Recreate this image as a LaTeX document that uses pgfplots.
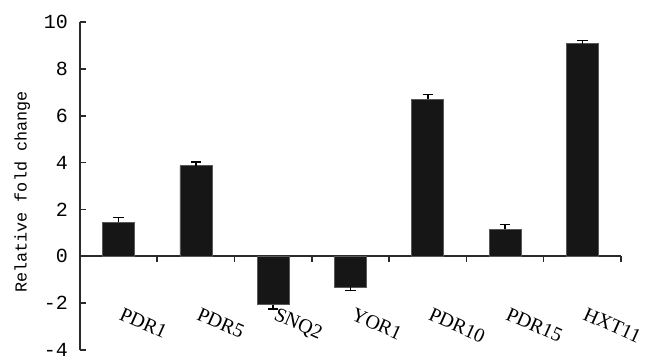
\documentclass[border=0pt]{standalone}
\usepackage{fontspec}
\setmainfont{Liberation Serif}
\newfontfamily\monof{Liberation Mono}
\usepackage{pgfplots}
\pgfplotsset{compat=1.18}
\definecolor{barblack}{HTML}{161616}
\definecolor{axgray}{HTML}{2A2A2A}
\begin{document}
\begin{tikzpicture}
\useasboundingbox (-40pt,-6.5pt) rectangle (282.5pt,175pt);
\begin{axis}[
  at={(0,0)}, anchor=south west,
  scale only axis, width=270.5pt, height=164pt,
  xmin=-0.5, xmax=6.5, ymin=-4, ymax=10,
  axis y line*=left, axis x line*=middle,
  hide obscured x ticks=false, hide obscured y ticks=false,
  axis line style={draw=axgray, line width=0.9pt},
  ytick={-4,-2,...,10},
  xtick={-0.5,0.5,...,6.5},
  x tick label as interval,
  xticklabels={PDR1,PDR5,SNQ2,YOR1,PDR10,PDR15,HXT11},
  tick align=inside,
  major tick length=2.8pt,
  tick style={draw=axgray, line width=0.8pt},
  /pgf/number format/assume math mode=true,
  yticklabel style={font=\monof\fontsize{10}{11}\selectfont, xshift=-2.5pt},
  xticklabel style={font=\fontsize{10}{11}\selectfont, yshift=-21pt, xshift=2pt, rotate=-24, anchor=north west, inner sep=1pt},
  ylabel={Relative fold change},
  ylabel style={font=\monof\fontsize{8.4}{10}\selectfont, xshift=-3pt},
  ybar, bar width=16pt,
  error bars/error bar style={line width=0.8pt, color=black},
]
\addplot[fill=barblack, draw=black!65, line width=0.4pt, bar shift=0pt,
  error bars/.cd, y dir=plus, y explicit, error mark options={rotate=90, mark size=2.6pt, line width=0.8pt}]
  table[x=x, y=y, y error=e] {
x y e
0 1.45 0.20
1 3.86 0.16
4 6.70 0.20
5 1.15 0.20
6 9.07 0.14
};
\addplot[fill=barblack, draw=black!65, line width=0.4pt, bar shift=0pt,
  error bars/.cd, y dir=minus, y explicit, error mark options={rotate=90, mark size=2.6pt, line width=0.8pt}]
  table[x=x, y=y, y error=e] {
x y e
2 -2.06 0.20
3 -1.31 0.15
};
\end{axis}
\end{tikzpicture}
\end{document}
